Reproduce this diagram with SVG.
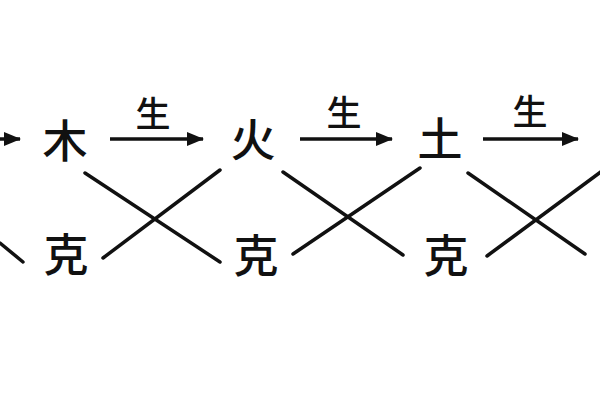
<svg xmlns="http://www.w3.org/2000/svg" width="600" height="400" viewBox="0 0 600 400">
<style>
.el{font-family:"Noto Sans CJK SC","Noto Sans CJK TC",sans-serif;font-size:45px;font-weight:500;fill:#111;text-anchor:middle}
.lb{font-family:"Noto Sans CJK SC","Noto Sans CJK TC",sans-serif;font-size:35px;font-weight:500;fill:#111;text-anchor:middle}
.ar{stroke:#111;stroke-width:3.5;fill:none;marker-end:url(#ah)}
.ln{stroke:#111;stroke-width:3.5;fill:none;stroke-linecap:round}
</style>
<defs>
<marker id="ah" markerUnits="userSpaceOnUse" markerWidth="17" markerHeight="14" refX="16" refY="7" orient="auto">
<path d="M0,0 L17,7 L0,14 Z" fill="#111"/>
</marker>
</defs>
<rect width="600" height="400" fill="#fff"/>
<g id="connectors">
<line class="ar" x1="0" y1="139" x2="20" y2="139"/>
<line class="ar" x1="110" y1="139" x2="203" y2="139"/>
<line class="ar" x1="300" y1="139" x2="392" y2="139"/>
<line class="ar" x1="483" y1="139" x2="578" y2="139"/>
<line class="ln" x1="0" y1="243" x2="23" y2="262"/>
<line class="ln" x1="85" y1="173" x2="220" y2="262"/>
<line class="ln" x1="220" y1="170" x2="103" y2="258"/>
<line class="ln" x1="283" y1="172" x2="403" y2="255"/>
<line class="ln" x1="420" y1="168" x2="293" y2="254"/>
<line class="ln" x1="468" y1="173" x2="585" y2="254"/>
<line class="ln" x1="487" y1="256" x2="602" y2="171"/>
</g>
<g id="label-sheng-1"><text class="lb" x="153" y="127">生</text></g>
<g id="label-sheng-2"><text class="lb" x="344" y="126">生</text></g>
<g id="label-sheng-3"><text class="lb" x="530" y="125">生</text></g>
<g id="node-mu"><text class="el" x="65" y="158">木</text></g>
<g id="node-huo"><text class="el" x="253" y="157">火</text></g>
<g id="node-tu"><text class="el" x="440" y="156">土</text></g>
<g id="label-ke-1"><text class="el" x="66" y="272">克</text></g>
<g id="label-ke-2"><text class="el" x="256" y="273">克</text></g>
<g id="label-ke-3"><text class="el" x="446" y="273">克</text></g>
</svg>
